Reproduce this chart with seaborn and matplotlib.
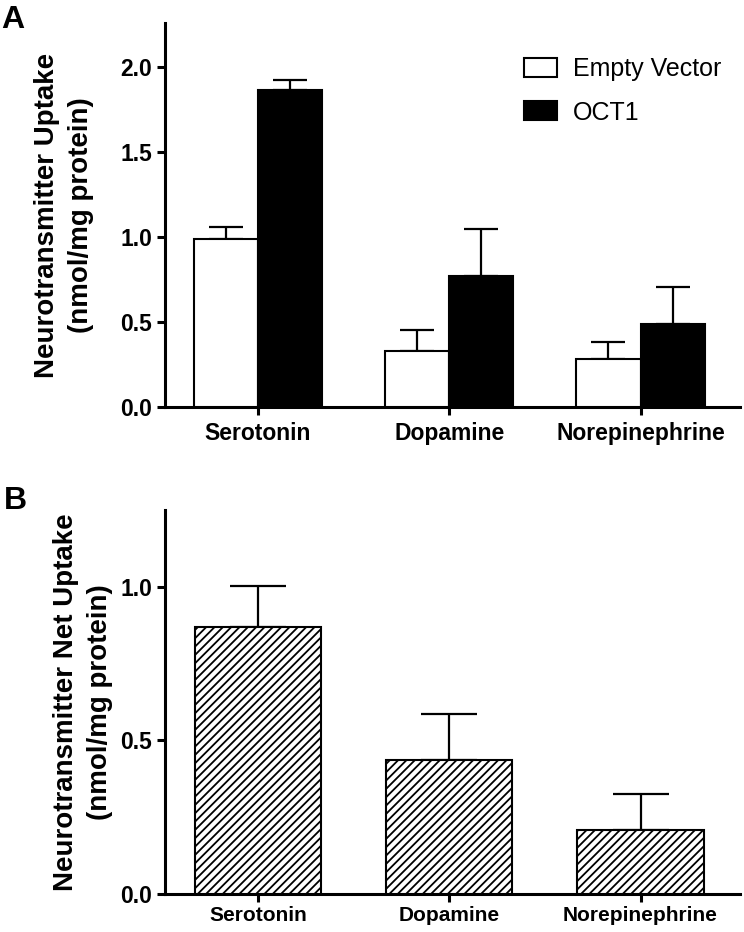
import numpy as np
import pandas as pd
import matplotlib
matplotlib.use("Agg")
import matplotlib.pyplot as plt
from matplotlib.patches import Patch
import seaborn as sns

# ---- data ----
categories = ["Serotonin", "Dopamine", "Norepinephrine"]
groups = ["Empty Vector", "OCT1"]
uptake_ev = [0.99, 0.33, 0.28]
uptake_ev_err = [0.07, 0.125, 0.10]
uptake_oct1 = [1.865, 0.77, 0.49]
uptake_oct1_err = [0.06, 0.275, 0.215]
net_uptake = [0.868, 0.436, 0.207]
net_uptake_err = [0.136, 0.149, 0.118]
top_yticks = [0.0, 0.5, 1.0, 1.5, 2.0]
bottom_yticks = [0.0, 0.5, 1.0]

sns.set_theme(style="ticks")
plt.rcParams["font.family"] = ["Liberation Sans", "DejaVu Sans"]
plt.rcParams["hatch.linewidth"] = 1.3
for k in ["axes.edgecolor", "xtick.color", "ytick.color", "text.color", "axes.labelcolor"]:
    plt.rcParams[k] = "black"

fig = plt.figure(figsize=(7.44, 9.32), dpi=100)
ax1 = fig.add_axes([0.2218, 0.5633, 0.7728, 0.412])
ax2 = fig.add_axes([0.2218, 0.0408, 0.7728, 0.412])

# ---- panel A ----
df_top = pd.DataFrame({
    "category": categories * 2,
    "group": [groups[0]] * 3 + [groups[1]] * 3,
    "value": uptake_ev + uptake_oct1,
})
sns.barplot(data=df_top, x="category", y="value", hue="group", order=categories,
            hue_order=groups, palette={groups[0]: "white", groups[1]: "black"},
            edgecolor="black", linewidth=1.5, width=0.67, gap=0, errorbar=None,
            legend=False, ax=ax1, zorder=3)
for cont, errs in zip(ax1.containers, [uptake_ev_err, uptake_oct1_err]):
    xs = [p.get_x() + p.get_width() / 2 for p in cont.patches]
    ys = [p.get_height() for p in cont.patches]
    ax1.errorbar(xs, ys, yerr=[np.zeros(len(errs)), errs], fmt="none",
                 ecolor="black", elinewidth=1.6, capsize=12, capthick=1.6, zorder=2)

ax1.set_xlim(-0.486, 2.52)
ax1.set_ylim(0, 2.26)
ax1.set_yticks(top_yticks)
ax1.set_yticklabels([f"{t:.1f}" for t in top_yticks])
ax1.set_xlabel("")
ax1.set_ylabel("Neurotransmitter Uptake\n(nmol/mg protein)", fontsize=20,
               fontweight="bold", linespacing=1.38)
ax1.yaxis.set_label_coords(-0.124, 0.5)
ax1.tick_params(axis="both", width=2.2, length=5.8, labelsize=16.5, pad=3.5)
ax1.tick_params(axis="x", pad=5)
for lab in ax1.get_xticklabels() + ax1.get_yticklabels():
    lab.set_fontweight("bold")
sns.despine(ax=ax1)
for s in ["left", "bottom"]:
    ax1.spines[s].set_linewidth(2.2)

handles = [Patch(facecolor="white", edgecolor="black", linewidth=1.5),
           Patch(facecolor="black", edgecolor="black", linewidth=1.5)]
ax1.legend(handles, groups, loc="upper left", bbox_to_anchor=(524 / 744, 1 - 57 / 932),
           bbox_transform=fig.transFigure, frameon=False, fontsize=18,
           handlelength=1.3, handleheight=0.8, handletextpad=0.65,
           labelspacing=0.78, borderpad=0, borderaxespad=0)

# ---- panel B ----
df_bot = pd.DataFrame({"category": categories, "value": net_uptake})
sns.barplot(data=df_bot, x="category", y="value", order=categories, color="white",
            edgecolor="black", linewidth=1.5, width=0.66, errorbar=None, ax=ax2,
            zorder=3)
for p in ax2.patches:
    p.set_hatch("////")
    p.set_facecolor("white")
xs = [p.get_x() + p.get_width() / 2 for p in ax2.patches]
ys = [p.get_height() for p in ax2.patches]
ax2.errorbar(xs, ys, yerr=[np.zeros(len(net_uptake_err)), net_uptake_err], fmt="none",
             ecolor="black", elinewidth=1.6, capsize=20, capthick=1.6, zorder=2)

ax2.set_xlim(-0.486, 2.52)
ax2.set_ylim(0, 1.25)
ax2.set_yticks(bottom_yticks)
ax2.set_yticklabels([f"{t:.1f}" for t in bottom_yticks])
ax2.set_xlabel("")
ax2.set_ylabel("Neurotransmitter Net Uptake\n(nmol/mg protein)", fontsize=20,
               fontweight="bold", linespacing=1.38)
ax2.yaxis.set_label_coords(-0.0913, 0.5)
ax2.tick_params(axis="both", width=2.2, length=5.8, pad=3.5)
ax2.tick_params(axis="y", labelsize=16.5)
ax2.tick_params(axis="x", labelsize=15, pad=3)
for lab in ax2.get_xticklabels() + ax2.get_yticklabels():
    lab.set_fontweight("bold")
sns.despine(ax=ax2)
for s in ["left", "bottom"]:
    ax2.spines[s].set_linewidth(2.2)

fig.text(0.002, 1 - 5 / 932, "A", fontsize=23, fontweight="bold", va="top", ha="left")
fig.text(0.005, 1 - 486 / 932, "B", fontsize=23, fontweight="bold", va="top", ha="left")

fig.savefig("out.png", dpi=100)
